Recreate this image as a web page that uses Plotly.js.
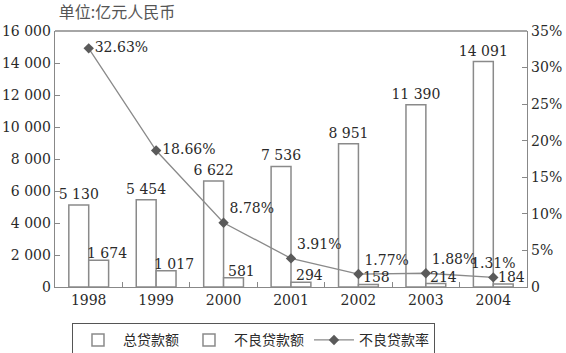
<!DOCTYPE html>
<html>
<head>
<meta charset="utf-8">
<script src="https://cdn.plot.ly/plotly-3.0.1.min.js"></script>
<style>html,body{margin:0;padding:0;background:#fff;}#chart{width:566px;height:353px;}</style>
</head>
<body>
<div id="chart"></div>
<script>
const years = ['1998','1999','2000','2001','2002','2003','2004'];
const totalLoans = [5130, 5454, 6622, 7536, 8951, 11390, 14091];
const nplLoans = [1674, 1017, 581, 294, 158, 214, 184];
const nplRatio = [32.63, 18.66, 8.78, 3.91, 1.77, 1.88, 1.31];
const leftTicks = [0, 2000, 4000, 6000, 8000, 10000, 12000, 14000, 16000];
const rightTicks = [0, 5, 10, 15, 20, 25, 30, 35];
const rightTickText = ['0', '5%', '10%', '15%', '20%', '25%', '30%', '35%'];
const seriesNames = ['总贷款额', '不良贷款额', '不良贷款率'];

const serif = 'DejaVu Serif';
const cjk = 'Noto Sans CJK SC';
const txt = '#2a2a2a';
const fs = 14;

const fmtThousands = v => String(v).replace(/\B(?=(\d{3})+(?!\d))/g, ' ');

const traces = [
  {
    type: 'bar', name: seriesNames[0], x: years, y: totalLoans,
    marker: {color: '#ffffff', line: {color: '#8a8a8a', width: 1.5}},
    texttemplate: '%{y:,d}', textposition: 'outside', cliponaxis: false,
    constraintext: 'none',
    textfont: {family: serif, size: fs, color: txt}
  },
  {
    type: 'bar', name: seriesNames[1], x: years, y: nplLoans,
    marker: {color: '#ffffff', line: {color: '#8a8a8a', width: 1.5}}
  },
  {
    type: 'scatter', mode: 'lines+markers+text', name: seriesNames[2], x: years, y: nplRatio,
    yaxis: 'y2',
    line: {color: '#8a8a8a', width: 1.3},
    marker: {symbol: 'diamond', size: 8, color: '#5a5a5a'},
    text: nplRatio.map(v => v.toFixed(2) + '%'),
    textposition: ['middle right', 'middle right', 'top right', 'top right', 'top right', 'top right', 'top center'],
    textfont: {family: serif, size: fs, color: txt},
    cliponaxis: false
  }
];

// labels for the non-performing loan bars: category index on the x axis, value on the y axis
const nplAnnotations = nplLoans.map((v, i) => ({
  x: i, y: v, xref: 'x', yref: 'y',
  text: fmtThousands(v), showarrow: false,
  xanchor: 'center', yanchor: 'bottom', xshift: 18, yshift: -3,
  font: {family: serif, size: fs, color: txt}
}));

const layout = {
  width: 566, height: 353,
  font: {family: serif},
  margin: {l: 55, r: 39, t: 31, b: 66, autoexpand: false},
  paper_bgcolor: '#ffffff', plot_bgcolor: '#ffffff',
  separators: '. ',
  barmode: 'group', bargap: 0.41, bargroupgap: 0,
  showlegend: true,
  title: {
    text: '单位:亿元人民币', x: 0.008, xanchor: 'left', xref: 'paper',
    y: 0.966, yanchor: 'middle', yref: 'container',
    font: {family: cjk, size: 16, color: '#555'}
  },
  xaxis: {
    type: 'category', categoryorder: 'array', categoryarray: years,
    showgrid: false, showline: true, linecolor: '#888', linewidth: 1.3,
    ticks: 'inside', tickson: 'boundaries', ticklen: 5, tickcolor: '#888',
    tickfont: {family: serif, size: fs, color: txt}, mirror: false, automargin: false
  },
  yaxis: {
    range: [0, 16000], tickvals: leftTicks, tickformat: ',d', automargin: false,
    showgrid: false, zeroline: false, showline: true, linecolor: '#888', linewidth: 1.3,
    ticks: 'inside', ticklen: 5, tickcolor: '#888',
    tickfont: {family: serif, size: fs, color: txt}
  },
  yaxis2: {
    overlaying: 'y', side: 'right', range: [0, 35], automargin: false,
    tickvals: rightTicks, ticktext: rightTickText,
    showgrid: false, zeroline: false, showline: true, linecolor: '#888', linewidth: 1.3,
    ticks: 'inside', ticklen: 5, tickcolor: '#888',
    tickfont: {family: serif, size: fs, color: txt}
  },
  shapes: [
    {type: 'line', xref: 'paper', yref: 'paper', x0: 0, x1: 1, y0: 1, y1: 1,
     line: {color: '#888', width: 1.3}}
  ],
  annotations: nplAnnotations,
  legend: {
    orientation: 'h', x: 0.036, xanchor: 'left', y: -0.142, yanchor: 'top',
    bordercolor: '#555', borderwidth: 1, bgcolor: '#fff',
    font: {family: cjk, size: 14, color: txt},
    itemwidth: 40, tracegroupgap: 0
  }
};

Plotly.newPlot('chart', traces, layout, {displayModeBar: false, staticPlot: true});
</script>
</body>
</html>
